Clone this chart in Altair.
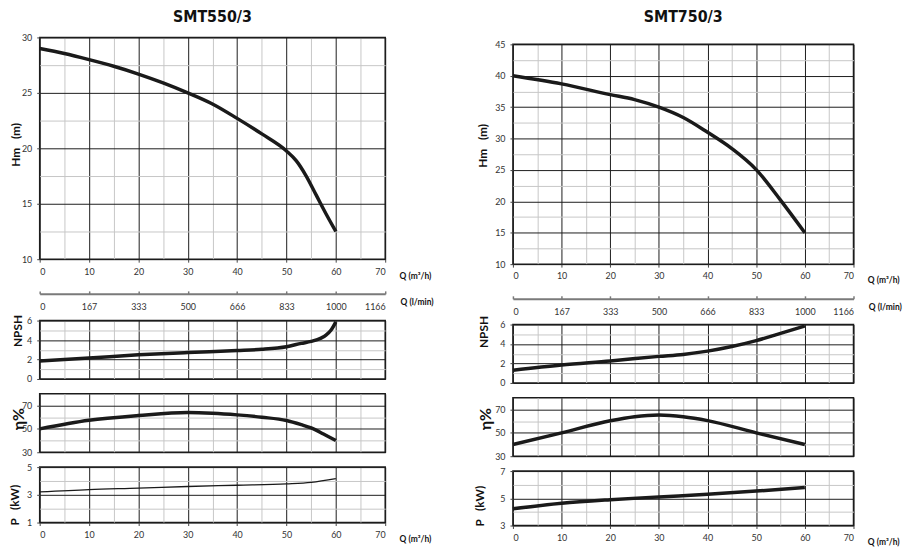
import altair as alt
import pandas as pd

TITLES = ["SMT550/3", "SMT750/3"]
Q_LMIN_LABELS = ["0", "167", "333", "500", "666", "833", "1000", "1166"]

# ---- SMT550/3 ----
h550_q = [0, 5, 10, 15, 20, 25, 30, 35, 40, 45, 50, 52, 54, 56, 58, 60]
h550_v = [29.0, 28.55, 28.0, 27.4, 26.7, 25.9, 25.0, 24.0, 22.7, 21.3, 19.76, 18.87, 17.5, 15.8, 14.1, 12.5]
npsh550_q = [0, 10, 20, 30, 40, 45, 50, 53, 55, 57, 58, 59, 60]
npsh550_v = [1.85, 2.15, 2.48, 2.72, 2.92, 3.05, 3.32, 3.66, 3.86, 4.2, 4.5, 5.0, 5.87]
eta550_q = [0, 10, 20, 30, 35, 40, 45, 50, 53, 55, 57.5, 60]
eta550_v = [50, 57.4, 61.4, 64, 63.4, 62.0, 60.0, 57.2, 53.6, 50.8, 45.6, 40.0]
p550_q = [0, 10, 20, 30, 40, 50, 55, 60]
p550_v = [3.21, 3.38, 3.48, 3.6, 3.69, 3.79, 3.9, 4.17]

# ---- SMT750/3 ----
h750_q = [0, 10, 20, 25, 30, 35, 40, 45, 50, 55, 60]
h750_v = [40.0, 38.7, 37.0, 36.2, 35.0, 33.35, 31.0, 28.4, 25.06, 20.2, 15.0]
npsh750_q = [0, 10, 20, 30, 35, 40, 45, 50, 55, 60]
npsh750_v = [1.31, 1.85, 2.26, 2.73, 2.93, 3.27, 3.74, 4.35, 5.09, 5.86]
eta750_q = [0, 10, 20, 25, 30, 35, 40, 50, 60]
eta750_v = [40, 50, 60.3, 63.8, 65.2, 63.8, 60.5, 50, 40]
p750_q = [0, 10, 20, 30, 40, 50, 60]
p750_v = [4.23, 4.64, 4.9, 5.1, 5.29, 5.53, 5.8]

DARK = "#1c1c1c"
LIGHT = "#c6c6c6"
LABEL_FONT = "Lato"
TITLE_FONT = "DejaVu Sans Condensed"
CURVE = "#1a1a1a"

X_VALUES = [0, 5, 10, 15, 20, 25, 30, 35, 40, 45, 50, 55, 60, 65, 70]
X_MAJOR = "datum.value % 10 === 0"
LMIN_EXPR = "[" + ",".join("'" + s + "'" for s in Q_LMIN_LABELS) + "][round(datum.value / 10)]"
XSCALE = alt.Scale(domain=[0, 70], nice=False, zero=False)


def cond(test, a, b):
    return {"condition": {"test": test, "value": a}, "value": b}


def x_axis(width, labeled):
    common = dict(
        values=X_VALUES, grid=True, gridColor=cond(X_MAJOR, DARK, LIGHT), gridWidth=1,
        domain=False,
    )
    if not labeled:
        return alt.Axis(labels=False, ticks=False, title=None, **common)
    return alt.Axis(
        labelExpr=f"{X_MAJOR} ? datum.label : ''",
        tickColor=cond(X_MAJOR, "#444", "transparent"), tickSize=3, labelPadding=5,
        labelFont=LABEL_FONT, labelFontSize=9, labelColor="#333",
        title="Q (m³/h)", titleX=width + 14, titleY=16, titleAlign="left",
        titleBaseline="middle", titleAngle=0, titleFont=LABEL_FONT, titleFontSize=8.5,
        titleFontWeight="bold", titleColor="#111",
        **common,
    )


def y_axis(values, major, title, tx, ty, tsize):
    return alt.Axis(
        values=values, grid=True, gridColor=cond(major, DARK, LIGHT), gridWidth=1,
        domain=False, labelExpr=f"({major}) ? datum.label : ''",
        tickColor=cond(major, "#444", "transparent"), tickSize=3, labelPadding=5,
        labelFont=LABEL_FONT, labelFontSize=9, labelColor="#333",
        title=title, titleX=tx, titleY=ty, titleAngle=270, titleAlign="center",
        titleBaseline="middle", titleFont=LABEL_FONT, titleFontSize=tsize,
        titleFontWeight="bold", titleColor="#111",
    )


def panel(q, v, width, height, ydom, yaxis, labeled_x, stroke=3.5, title=None):
    df = pd.DataFrame({"q": q, "v": v})
    ch = alt.Chart(df).mark_line(color=CURVE, strokeWidth=stroke, interpolate="monotone").encode(
        x=alt.X("q:Q", scale=XSCALE, axis=x_axis(width, labeled_x)),
        y=alt.Y("v:Q", scale=alt.Scale(domain=ydom, nice=False, zero=False), axis=yaxis),
    )
    props = dict(width=width, height=height)
    if title is not None:
        props["title"] = title
    return ch.properties(**props)


def lmin_chart(q, width, height, offset):
    df = pd.DataFrame({"q": q})
    return alt.Chart(df).mark_point(opacity=0).encode(
        x=alt.X("q:Q", scale=XSCALE,
                axis=alt.Axis(
                    orient="top", values=[0, 10, 20, 30, 40, 50, 60, 70], labelExpr=LMIN_EXPR,
                    offset=offset, grid=False, domain=True, domainColor="#7a7a7a", domainWidth=2,
                    tickColor="#7a7a7a", tickSize=3, tickWidth=1.5, labelPadding=-16,
                    labelBaseline="middle", labelFont=LABEL_FONT, labelFontSize=9, labelColor="#333",
                    title="Q (l/min)", titleX=width + 15, titleY=8, titleAlign="left",
                    titleBaseline="middle", titleAngle=0, titleFont=LABEL_FONT, titleFontSize=8.5,
                    titleFontWeight="bold", titleColor="#111",
                )),
    ).properties(width=width, height=height, view=alt.ViewBackground(stroke="transparent"))


def spacer(q, width):
    df = pd.DataFrame({"q": q})
    return alt.Chart(df).mark_point(opacity=0).encode(
        x=alt.X("q:Q", scale=XSCALE, axis=None)
    ).properties(width=width, height=1, view=alt.ViewBackground(stroke="transparent"))


def title_params(text, offset):
    return alt.TitleParams(text=text, font=TITLE_FONT, fontSize=16, fontWeight="bold",
                           color="#111", anchor="middle", baseline="alphabetic", offset=offset)


HM = "Hm\u00a0\u00a0\u00a0(m)"
PKW = "P\u00a0\u00a0\u00a0(kW)"

# Left column
WL = 349
main_l = panel(h550_q, h550_v, WL, 224, [10, 30],
               y_axis([10, 12.5, 15, 17.5, 20, 22.5, 25, 27.5, 30], "datum.value % 5 === 0", HM, -24, 108, 12),
               True, title=title_params(TITLES[0], -4))
lmin_l = lmin_chart(npsh550_q, WL, 24, -12)
npsh_l = panel(npsh550_q, npsh550_v, WL, 59, [0, 6],
               y_axis([0, 1, 2, 3, 4, 5, 6], "datum.value % 2 === 0", "NPSH", -22, 10, 12), False)
eta_l = panel(eta550_q, eta550_v, WL, 59, [30, 80],
              y_axis([30, 40, 50, 60, 70], "(datum.value - 30) % 20 === 0", "η%", -21, 25, 16), False)
p_l = panel(p550_q, p550_v, WL, 56, [1, 5],
            y_axis([1, 2, 3, 4, 5], "(datum.value - 1) % 2 === 0", PKW, -25, 38, 12), True, stroke=1.3)

# Right column
WR = 344
main_r = panel(h750_q, h750_v, WR, 222, [10, 45],
               y_axis([10 + 2.5 * i for i in range(15)], "datum.value % 5 === 0", HM, -31, 102, 12),
               True, title=title_params(TITLES[1], 3))
lmin_r = lmin_chart(npsh750_q, WR, 23, -12)
npsh_r = panel(npsh750_q, npsh750_v, WR, 59, [0, 6],
               y_axis([0, 1, 2, 3, 4, 5, 6], "datum.value % 2 === 0", "NPSH", -30, 7, 12), False)
eta_r = panel(eta750_q, eta750_v, WR, 59, [30, 80],
              y_axis([30, 40, 50, 60, 70], "(datum.value - 30) % 20 === 0", "η%", -28, 21, 16), False)
p_r = panel(p750_q, p750_v, WR, 55, [3, 7],
            y_axis([3, 4, 5, 6, 7], "(datum.value - 3) % 2 === 0", PKW, -34, 35, 12), True)

rest_l = alt.vconcat(lmin_l, npsh_l, eta_l, p_l, spacing=15, bounds="flush")
rest_r = alt.vconcat(lmin_r, npsh_r, eta_r, p_r, spacing=15, bounds="flush")
left = alt.vconcat(spacer(h550_q, WL), main_l, rest_l, spacing=0, bounds="full")
right = alt.vconcat(spacer(h750_q, WR), main_r, rest_r, spacing=0, bounds="full")

chart = alt.hconcat(left, right, spacing=38).properties(
    padding={"left": 0, "top": -10, "right": 0, "bottom": 0}
).configure_view(stroke=DARK, strokeWidth=1.5)

chart.save("out.html", embed_options={"renderer": "svg", "actions": False})
